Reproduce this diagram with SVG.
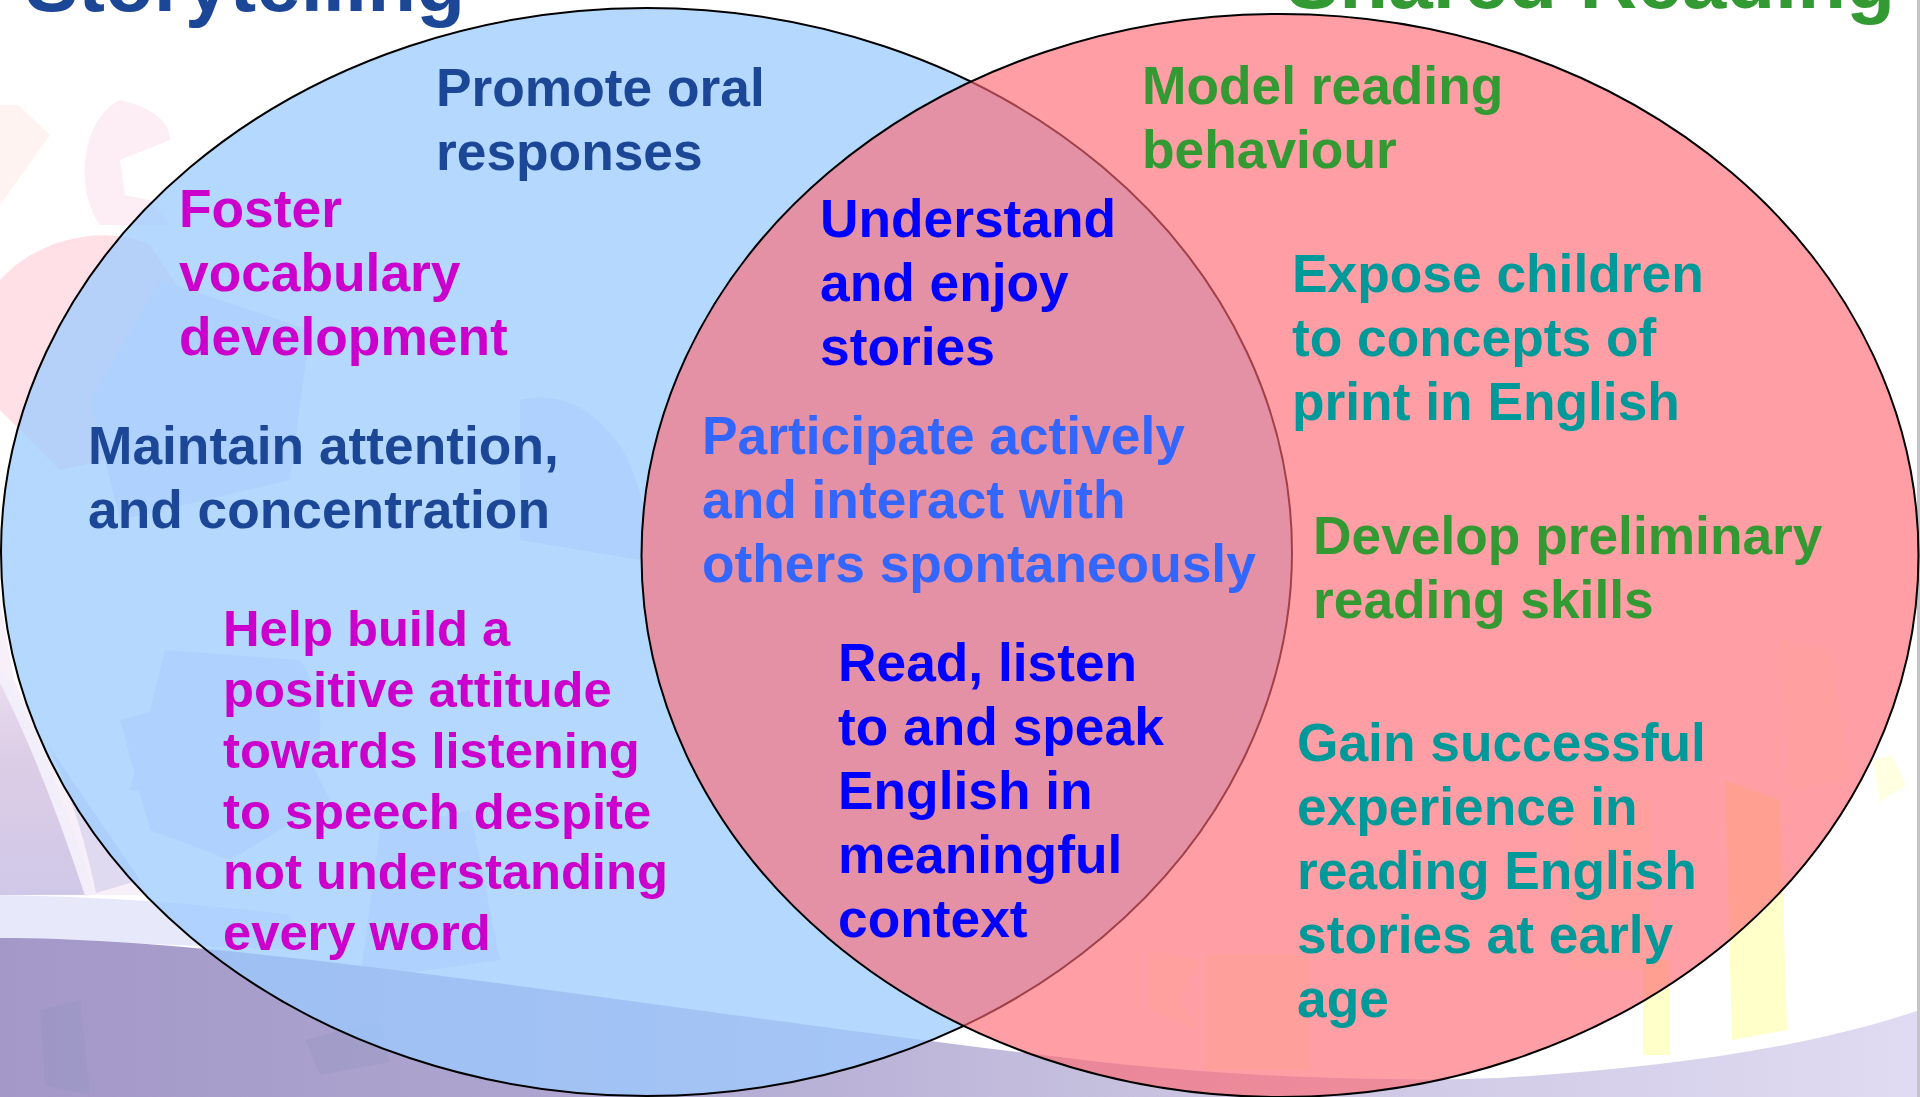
<svg xmlns="http://www.w3.org/2000/svg" width="1920" height="1097" viewBox="0 0 1920 1097">
<style>
text{font-family:"Liberation Sans",Arial,sans-serif;font-weight:700}
.f{font-size:53.3px}.p{font-size:50.7px}.h{font-size:80px}
.navy{fill:#1c4696}.pink{fill:#cc00cc}.green{fill:#339933}.teal{fill:#009999}.blue{fill:#0000ff}.mid{fill:#3366ff}
</style>
<defs>
<linearGradient id="band" x1="0" x2="1" y1="0" y2="0"><stop offset="0" stop-color="#a398c8"/><stop offset=".3" stop-color="#aea6d0"/><stop offset=".6" stop-color="#c8c2e0"/><stop offset="1" stop-color="#e0dbf2"/></linearGradient>
<linearGradient id="lav" x1="0" x2="0" y1="0" y2="1"><stop offset="0" stop-color="#eadcf0"/><stop offset=".4" stop-color="#dccde6"/><stop offset="1" stop-color="#d0c8e8"/></linearGradient>
</defs>
<g id="background">
<rect width="1920" height="1097" fill="#fff"/>
<path d="M0 105L18 105 50 135 0 205Z" fill="#fef3f0"/>
<path d="M120 100C140 105 170 115 170 140L120 160 125 195 150 200 170 225 100 225C75 190 80 120 120 100Z" fill="#fdeef5"/>
<path d="M0 280C40 235 110 225 150 245L200 320 190 440 60 470 0 410Z" fill="#ffe0e7"/>
<path d="M0 600L14 680 60 780 150 895 0 895Z" fill="#f8f0f9"/>
<path d="M0 672C30 730 62 810 88 895H0Z" fill="url(#lav)"/>
<path d="M96 893C85 840 70 790 48 745L140 880Z" fill="#e0daf0"/>
<path d="M0 672C30 730 62 810 90 895" fill="none" stroke="#f2eefa" stroke-width="10"/>
<path d="M0 895C100 897 190 902 290 915L300 950 0 938Z" fill="#e8e8fb"/>
<g fill="#e4e6f6">
<path d="M160 280L310 330 290 480 120 520 90 400Z"/>
<path d="M120 720L270 680 330 800 230 860 150 830Z"/>
<path d="M165 650L300 660C340 720 320 800 250 810L130 790Z"/>
<path d="M380 830L470 810 500 960 360 980Z"/>
<path d="M520 400C600 380 660 480 640 560L520 540Z"/>
</g>
<g fill="#ffffc4">
<rect x="1643" y="960" width="27" height="95" opacity=".9"/>
<path d="M1725 780L1780 800 1787 1030 1732 1040Z" opacity=".9"/>
<path d="M1873 760L1892 755 1906 785 1880 802Z" opacity=".5"/>
<path d="M1205 955H1310V1070H1205Z" opacity=".4"/>
<path d="M1150 950L1198 960 1180 1000 1198 1030 1150 1010Z" opacity=".3"/>
<path d="M1570 800H1650V970H1570Z" opacity=".3"/>
<path d="M1780 640L1830 650 1850 780 1790 790Z" opacity=".25"/>
</g>
<path id="swoosh" d="M0 938C250 938 620 1005 1100 1062C1250 1078 1400 1082 1500 1078C1660 1068 1800 1050 1920 1010V1097H0Z" fill="url(#band)"/>
<g fill="#8f93bd" opacity=".28">
<path d="M40 1010L80 1000 90 1095 45 1085Z"/>
<path d="M305 1040L380 1020 390 1062 320 1075Z"/>
</g>
<rect x="1917" width="3" height="1097" fill="#c4c4c8"/>
</g>
<g id="title-storytelling"><text class="h navy" x="25" y="11">Storytelling</text></g>
<g id="title-shared-reading"><text class="h green" x="1286" y="8">Shared Reading</text></g>
<g id="storytelling-circle"><ellipse cx="646.500" cy="552" rx="645.500" ry="544" fill="#9ccbff" fill-opacity=".75" stroke="#000" stroke-width="2"/></g>
<g id="shared-reading-circle"><ellipse cx="1280" cy="555.500" rx="638.500" ry="541.500" fill="#ff6770" fill-opacity=".63" stroke="#000" stroke-width="2"/></g>
<g id="promote"><text class="f navy" x="436" y="106">Promote oral</text><text class="f navy" x="436" y="170">responses</text></g>
<g id="foster"><text class="f pink" x="179" y="227">Foster</text><text class="f pink" x="179" y="291">vocabulary</text><text class="f pink" x="179" y="355">development</text></g>
<g id="maintain"><text class="f navy" x="88" y="464">Maintain attention,</text><text class="f navy" x="88" y="528">and concentration</text></g>
<g id="help"><text class="p pink" x="223" y="646">Help build a</text><text class="p pink" x="223" y="707">positive attitude</text><text class="p pink" x="223" y="768">towards listening</text><text class="p pink" x="223" y="829">to speech despite</text><text class="p pink" x="223" y="889">not understanding</text><text class="p pink" x="223" y="950">every word</text></g>
<g id="understand"><text class="f blue" x="820" y="237">Understand</text><text class="f blue" x="820" y="301">and enjoy</text><text class="f blue" x="820" y="365">stories</text></g>
<g id="participate"><text class="f mid" x="702" y="454">Participate actively</text><text class="f mid" x="702" y="518">and interact with</text><text class="f mid" x="702" y="582">others spontaneously</text></g>
<g id="read"><text class="f blue" x="838" y="681">Read, listen</text><text class="f blue" x="838" y="745">to and speak</text><text class="f blue" x="838" y="809">English in</text><text class="f blue" x="838" y="873">meaningful</text><text class="f blue" x="838" y="937">context</text></g>
<g id="model"><text class="f green" x="1142" y="104">Model reading</text><text class="f green" x="1142" y="168">behaviour</text></g>
<g id="expose"><text class="f teal" x="1292" y="292">Expose children</text><text class="f teal" x="1292" y="356">to concepts of</text><text class="f teal" x="1292" y="420">print in English</text></g>
<g id="develop"><text class="f green" x="1313" y="554">Develop preliminary</text><text class="f green" x="1313" y="618">reading skills</text></g>
<g id="gain"><text class="f teal" x="1297" y="761">Gain successful</text><text class="f teal" x="1297" y="825">experience in</text><text class="f teal" x="1297" y="889">reading English</text><text class="f teal" x="1297" y="953">stories at early</text><text class="f teal" x="1297" y="1017">age</text></g>
</svg>
